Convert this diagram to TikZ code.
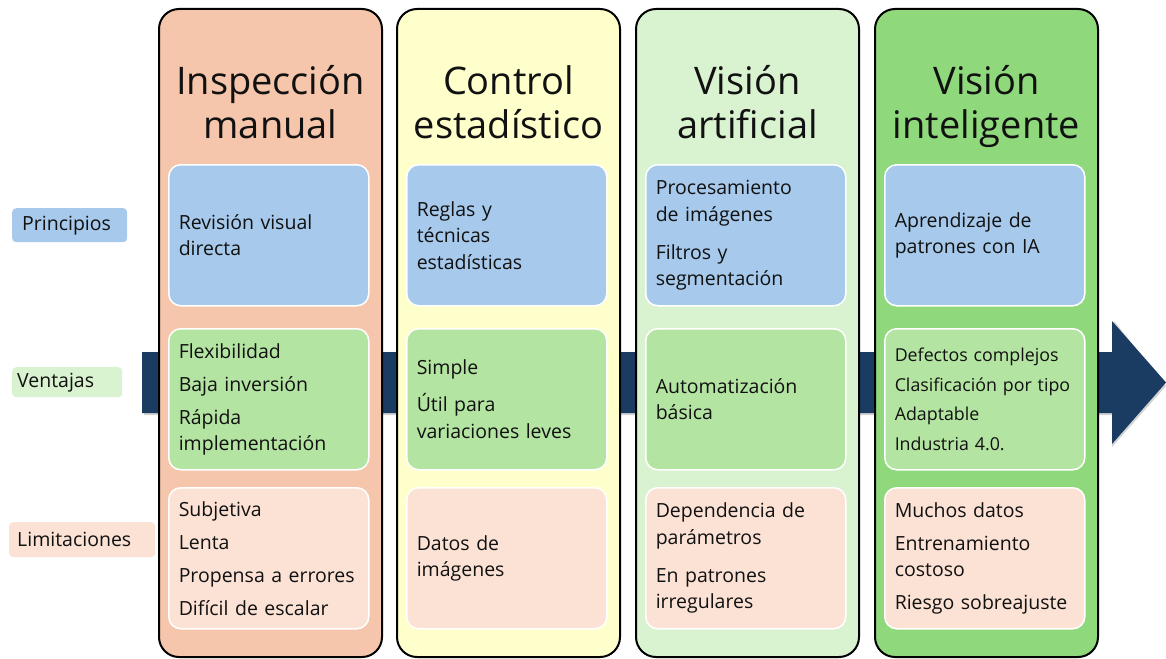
\documentclass[tikz,border=0pt]{standalone}
\usepackage{fontspec}
\setmainfont{Open Sans}
\definecolor{navy}{HTML}{1A3C63}
\definecolor{cOne}{HTML}{F5C6AB}
\definecolor{cTwo}{HTML}{FFFFCC}
\definecolor{cThree}{HTML}{D9F2D0}
\definecolor{cFour}{HTML}{8FD97C}
\definecolor{bBlue}{HTML}{A6C9EC}
\definecolor{bGreen}{HTML}{B4E4A2}
\definecolor{bSalmon}{HTML}{FBE2D5}
\definecolor{ink}{HTML}{111111}
\begin{document}
\begin{tikzpicture}[x=1pt,y=-1pt,
  colbox/.style={draw=black, line width=2pt, rounded corners=20pt},
  title/.style={font=\fontsize{38}{43}\selectfont, text=ink, anchor=base, inner sep=0pt},
  cell/.style={draw=white, line width=1.5pt, rounded corners=12pt, anchor=north west,
    minimum width=200pt, minimum height=141pt, text width=180pt, inner xsep=10pt,
    align=left, text=ink, font=\fontsize{19.5}{26.5}\selectfont},
  small/.style={font=\fontsize{17.8}{22}\selectfont},
  lab/.style={rounded corners=4pt, anchor=north west, align=left, text=ink,
    font=\fontsize{19.5}{22}\selectfont}]
\useasboundingbox (0,0) rectangle (1166,658);
% arrow
\fill[black!35, opacity=0.5] (144,415) -- (1112,415) -- (1112,447) -- (1166,386) -- (1114,321) -- (1114,355) -- (144,355) -- cycle;
\fill[navy] (142,352) -- (1112,352) -- (1112,321) -- (1166,382.5) -- (1112,444) -- (1112,413) -- (142,413) -- cycle;
% left labels
\node[lab, fill=bBlue, minimum width=115pt, text width=95pt, inner xsep=10pt, minimum height=34pt] (lp) at (12,208) {Principios};
\node[lab, fill=cThree, minimum width=110pt, text width=100pt, inner xsep=5pt, minimum height=30pt] (lv) at (12,367) {Ventajas};
\node[lab, fill=bSalmon, minimum width=146pt, text width=130pt, inner xsep=8pt, minimum height=35pt] (ll) at (9,522) {Limitaciones};
% columns
\filldraw[colbox, fill=cOne] (159,9) rectangle (382,657);
\filldraw[colbox, fill=cTwo] (397,9) rectangle (620,657);
\filldraw[colbox, fill=cThree] (636,9) rectangle (859,657);
\filldraw[colbox, fill=cFour] (875,9) rectangle (1098,657);
% titles
\node[title] (t1a) at (270.5,95) {Inspección};
\node[title] (t1b) at (270.5,138) {manual};
\node[title] (t2a) at (508.5,95) {Control};
\node[title] (t2b) at (508.5,138) {estadístico};
\node[title] (t3a) at (747.5,95) {Visión};
\node[title] (t3b) at (747.5,138) {artificial};
\node[title] (t4a) at (986.5,95) {Visión};
\node[title] (t4b) at (986.5,138) {inteligente};
% column 1
\node[cell, fill=bBlue] (p1) at (168,164) {Revisión visual\\directa};
\node[cell, fill=bGreen] (v1) at (168,328) {Flexibilidad\\[6.5pt]Baja inversión\\[6.5pt]Rápida\\implementación};
\node[cell, fill=bSalmon] (l1) at (168,487) {Subjetiva\\[6.5pt]Lenta\\[6.5pt]Propensa a errores\\[6.5pt]Difícil de escalar};
% column 2
\node[cell, fill=bBlue] (p2) at (406,164) {Reglas y\\técnicas\\estadísticas};
\node[cell, fill=bGreen] (v2) at (406,328) {Simple\\[10.5pt]Útil para\\variaciones leves};
\node[cell, fill=bSalmon] (l2) at (406,487) {Datos de\\imágenes};
% column 3
\node[cell, fill=bBlue] (p3) at (645,164) {Procesamiento\\de imágenes\\[11.5pt]Filtros y\\segmentación};
\node[cell, fill=bGreen] (v3) at (645,328) {Automatización\\básica};
\node[cell, fill=bSalmon] (l3) at (645,487) {Dependencia de\\parámetros\\[11.5pt]En patrones\\irregulares};
% column 4
\node[cell, fill=bBlue] (p4) at (884,164) {Aprendizaje de\\patrones con IA};
\node[cell, fill=bGreen, small] (v4) at (884,328) {Defectos complejos\\[7.5pt]Clasificación por tipo\\[7.5pt]Adaptable\\[7.5pt]Industria 4.0.};
\node[cell, fill=bSalmon] (l4) at (884,487) {Muchos datos\\[6.5pt]Entrenamiento\\costoso\\[6.5pt]Riesgo sobreajuste};
\end{tikzpicture}
\end{document}
